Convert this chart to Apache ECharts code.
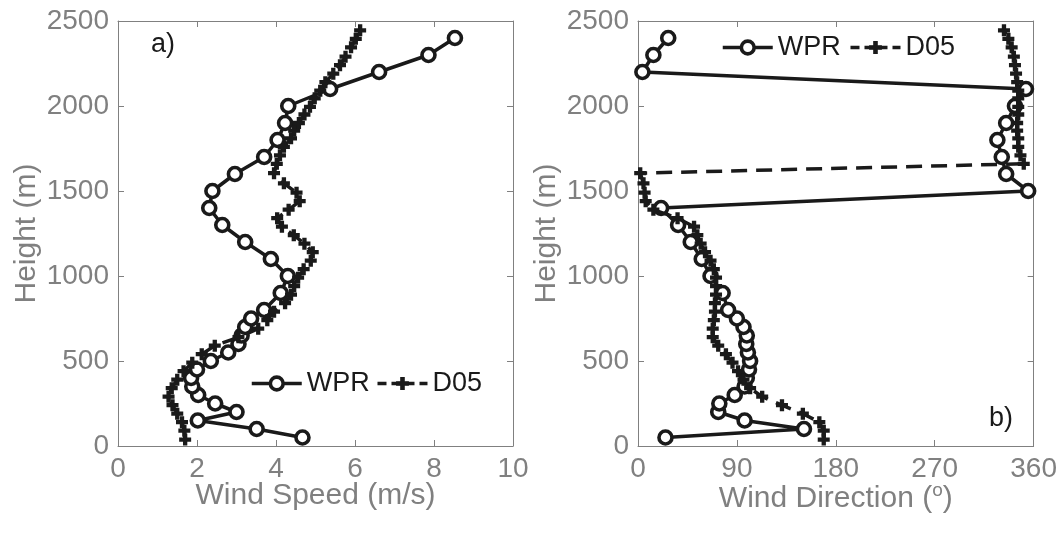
<!DOCTYPE html>
<html><head><meta charset="utf-8">
<script src="https://cdn.jsdelivr.net/npm/echarts@6/dist/echarts.min.js"></script>
<style>html,body{margin:0;padding:0;background:#fff}#c{width:1060px;height:539px}</style>
</head><body><div id="c"></div>
<script>
const wprHeights = [50,100,150,200,250,300,350,400,450,500,550,600,650,700,750,800,900,1000,1100,1200,1300,1400,1500,1600,1700,1800,1900,2000,2100,2200,2300,2400];
const wprSpeed = [4.67,3.51,2.02,3.0,2.46,2.03,1.88,1.85,2.0,2.35,2.79,3.05,3.13,3.22,3.37,3.70,4.12,4.30,3.87,3.22,2.64,2.31,2.39,2.96,3.70,4.04,4.23,4.31,5.37,6.61,7.86,8.53];
const wprDir = [25,151,97,73,74,88,97,99,101,102,100,98.5,99,96,90,82,77,66,58,48,36.5,21,355,335,331,327,335,343,353,4,14,27.5];
const d05Heights = [38,90,140,190,240,290,340,390,440,490,540,590,640,690,740,790,840,890,940,990,1040,1090,1140,1190,1240,1290,1340,1390,1440,1490,1545,1605,1660,1710,1760,1810,1855,1900,1950,1995,2045,2090,2140,2190,2240,2290,2345,2395,2445];
const d05Speed = [1.70,1.68,1.62,1.50,1.38,1.28,1.36,1.50,1.66,1.88,2.12,2.45,3.05,3.55,3.78,3.95,4.23,4.38,4.46,4.56,4.70,4.88,4.93,4.72,4.45,4.15,4.03,4.32,4.60,4.52,4.20,3.95,4.02,4.10,4.20,4.38,4.46,4.58,4.72,4.86,4.98,5.12,5.25,5.45,5.62,5.76,5.90,6.02,6.13];
const d05Dir = [169,169,165,150,131,113,102,96,91,86,80,73,68,68,69,70,70,71,71,71,69,66,61,57,54,51,36,14,7,6,5,2,351,348,346,346,345,345,346,346,346,346,345,344,343,342,340,337,333];
const heightTicks = [0,500,1000,1500,2000,2500];
const speedTicks = [0,2,4,6,8,10];
const dirTicks = [0,90,180,270,360];

const GRAY = '#808080', INK = '#1a1a1a';
const FONT = 'Liberation Sans, Arial, sans-serif';
const plusPath = 'path://M3.2,0h3.6v3.2h3.2v3.6h-3.2v3.2h-3.6v-3.2h-3.2v-3.6h3.2z';

function xAx(grid, ticks, name, pos, show, gap) {
  return {
    type: 'value', gridIndex: grid, min: ticks[0], max: ticks[ticks.length - 1],
    interval: ticks[1] - ticks[0], position: pos,
    name: show ? name : '', nameLocation: 'middle', nameGap: gap, nameMoveOverlap: false,
    nameTextStyle: {color: GRAY, fontSize: 30, fontFamily: FONT,
      rich: {sup: {fontSize: 19, color: GRAY, fontFamily: FONT, verticalAlign: 'top', padding: [0,0,16,0]}}},
    axisLine: {show: true, onZero: false, lineStyle: {color: GRAY, width: 1}},
    axisTick: {show: true, inside: true, length: 6, lineStyle: {color: GRAY}},
    axisLabel: {show: show, color: GRAY, fontSize: 28, fontFamily: FONT, margin: 9,
      formatter: v => String(v)},
    splitLine: {show: false}
  };
}
function yAx(grid, pos, show) {
  return {
    type: 'value', gridIndex: grid, min: heightTicks[0], max: heightTicks[heightTicks.length - 1],
    interval: heightTicks[1] - heightTicks[0], position: pos,
    name: show ? 'Height (m)' : '', nameLocation: 'middle', nameGap: 76, nameMoveOverlap: false,
    nameTextStyle: {color: GRAY, fontSize: 30, fontFamily: FONT},
    axisLine: {show: true, onZero: false, lineStyle: {color: GRAY, width: 1}},
    axisTick: {show: true, inside: true, length: 6, lineStyle: {color: GRAY}},
    axisLabel: {show: show, color: GRAY, fontSize: 28, fontFamily: FONT, margin: 9,
      formatter: v => String(v)},
    splitLine: {show: false}
  };
}
const zip = (xs, ys) => xs.map((v, i) => [v, ys[i]]);

const wprStyle = {
  type: 'line', symbol: 'circle', symbolSize: 13,
  itemStyle: {color: '#fff', borderColor: INK, borderWidth: 3.6},
  lineStyle: {color: INK, width: 3.5}, animation: false, z: 2
};
const d05Style = {
  type: 'line', symbol: plusPath, symbolSize: 12,
  itemStyle: {color: INK, borderWidth: 0},
  lineStyle: {color: INK, width: 3.5, type: [16, 9]}, animation: false, z: 3
};

function legendData(a, b) {
  return [
    {name: a, itemStyle: {color: '#fff', borderColor: INK, borderWidth: 3.6}, lineStyle: {color: INK, width: 3.5}},
    {name: b, itemStyle: {color: INK, borderWidth: 0}, lineStyle: {color: INK, width: 3.5, type: [9, 5]}}
  ];
}

const chart = echarts.init(document.getElementById('c'), null, {renderer: 'canvas'});
chart.setOption({
  backgroundColor: '#fff',
  grid: [
    {left: 118, top: 21, width: 395, height: 425},
    {left: 638, top: 21, width: 397, height: 425}
  ],
  xAxis: [
    xAx(0, speedTicks, 'Wind Speed (m/s)', 'bottom', true, 35),
    xAx(1, dirTicks, 'Wind Direction ({sup|o})', 'bottom', true, 35),
    xAx(0, speedTicks, '', 'top', false, 0),
    xAx(1, dirTicks, '', 'top', false, 0)
  ],
  yAxis: [
    yAx(0, 'left', true), yAx(1, 'left', true),
    yAx(0, 'right', false), yAx(1, 'right', false)
  ],
  legend: [
    {data: legendData('WPR', 'D05'), left: 245, top: 365, itemWidth: 50, itemHeight: 16, itemGap: 6,
     textStyle: {fontSize: 27, color: INK, fontFamily: FONT}, selectedMode: false},
    {data: legendData('WPR ', 'D05 '), left: 716, top: 29, itemWidth: 50, itemHeight: 16, itemGap: 8,
     formatter: n => n.trim(),
     textStyle: {fontSize: 27, color: INK, fontFamily: FONT}, selectedMode: false}
  ],
  series: [
    Object.assign({name: 'WPR', xAxisIndex: 0, yAxisIndex: 0, data: zip(wprSpeed, wprHeights)}, wprStyle),
    Object.assign({name: 'D05', xAxisIndex: 0, yAxisIndex: 0, data: zip(d05Speed, d05Heights)}, d05Style),
    Object.assign({name: 'WPR ', xAxisIndex: 1, yAxisIndex: 1, data: zip(wprDir, wprHeights)}, wprStyle),
    Object.assign({name: 'D05 ', xAxisIndex: 1, yAxisIndex: 1, data: zip(d05Dir, d05Heights)}, d05Style)
  ],
  graphic: [
    {type: 'text', left: 151, top: 31, style: {text: 'a)', fontSize: 27, fill: INK, fontFamily: FONT}},
    {type: 'text', left: 989, top: 405, style: {text: 'b)', fontSize: 27, fill: INK, fontFamily: FONT}}
  ]
});
</script></body></html>
